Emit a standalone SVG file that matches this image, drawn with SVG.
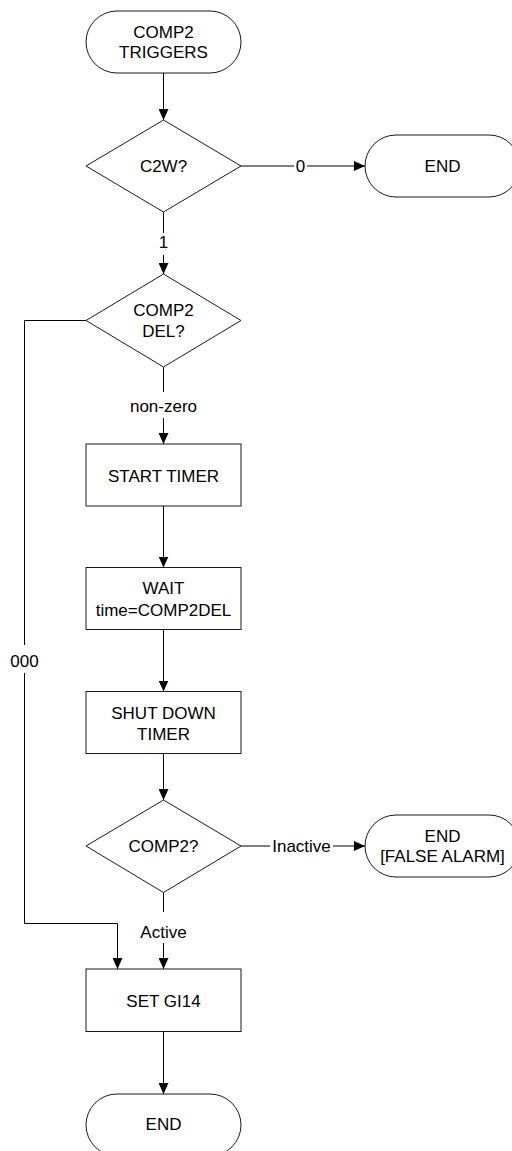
<svg xmlns="http://www.w3.org/2000/svg" width="512" height="1151" viewBox="0 0 512 1151">
<style>
.shape{fill:#fff;stroke:#1a1a1a;stroke-width:1}
.t{font-family:"Liberation Sans",Arial,sans-serif;font-size:17px;fill:#000;text-anchor:middle}
.c{fill:none;stroke:#000;stroke-width:1}
.lb{fill:#fff;stroke:none}
</style>
<defs>
<marker id="arr" markerUnits="userSpaceOnUse" markerWidth="11" markerHeight="10" refX="11" refY="5" orient="auto">
<path d="M0,0 L11,5 L0,10 z" fill="#000"/>
</marker>
</defs>
<rect width="512" height="1151" fill="#fff"/>
<g id="connectors">
<line class="c" x1="163.5" y1="73" x2="163.5" y2="120" marker-end="url(#arr)"/>
<line class="c" x1="241" y1="166" x2="365" y2="166" marker-end="url(#arr)"/>
<line class="c" x1="163.5" y1="212" x2="163.5" y2="274" marker-end="url(#arr)"/>
<polyline class="c" points="86,320.5 24.5,320.5 24.5,923.5 117.5,923.5 117.5,969" marker-end="url(#arr)"/>
<line class="c" x1="163.5" y1="367" x2="163.5" y2="444" marker-end="url(#arr)"/>
<line class="c" x1="163.5" y1="506" x2="163.5" y2="567.5" marker-end="url(#arr)"/>
<line class="c" x1="163.5" y1="629.5" x2="163.5" y2="691.5" marker-end="url(#arr)"/>
<line class="c" x1="163.5" y1="753.5" x2="163.5" y2="800" marker-end="url(#arr)"/>
<line class="c" x1="241" y1="846" x2="365" y2="846" marker-end="url(#arr)"/>
<line class="c" x1="163.5" y1="892.5" x2="163.5" y2="969" marker-end="url(#arr)"/>
<line class="c" x1="163.5" y1="1031.5" x2="163.5" y2="1094" marker-end="url(#arr)"/>
<rect class="lb" x="294" y="156" width="13" height="20"/>
<text class="t" x="300.5" y="171.5">0</text>
<rect class="lb" x="156" y="233" width="15" height="22"/>
<text class="t" x="163.5" y="248.3">1</text>
<rect class="lb" x="128" y="392" width="71" height="26"/>
<text class="t" x="163.5" y="411.7">non-zero</text>
<rect class="lb" x="8" y="645" width="33" height="28"/>
<text class="t" x="24.5" y="666.5">000</text>
<rect class="lb" x="270" y="836" width="63" height="20"/>
<text class="t" x="301.5" y="852">Inactive</text>
<rect class="lb" x="139" y="912" width="49" height="31"/>
<text class="t" x="163.5" y="937.7">Active</text>
</g>
<g id="start">
<rect class="shape" x="86" y="11" width="155" height="62" rx="31" ry="31"/>
<text class="t" x="163.5" y="37.7">COMP2</text>
<text class="t" x="163.5" y="58.3">TRIGGERS</text>
</g>
<g id="c2w">
<polygon class="shape" points="163.5,120 241,166 163.5,212 86,166"/>
<text class="t" x="163.5" y="171.5">C2W?</text>
</g>
<g id="end1">
<rect class="shape" x="365" y="135" width="155" height="62" rx="31" ry="31"/>
<text class="t" x="442.5" y="171.5">END</text>
</g>
<g id="comp2del">
<polygon class="shape" points="163.5,274 241,320.5 163.5,367 86,320.5"/>
<text class="t" x="163.5" y="315.7">COMP2</text>
<text class="t" x="163.5" y="336.5">DEL?</text>
</g>
<g id="starttimer">
<rect class="shape" x="86" y="444" width="155" height="62"/>
<text class="t" x="163.5" y="481.5">START TIMER</text>
</g>
<g id="wait">
<rect class="shape" x="86" y="567.5" width="155" height="62"/>
<text class="t" x="163.5" y="594.3">WAIT</text>
<text class="t" x="163.5" y="615.5">time=COMP2DEL</text>
</g>
<g id="shutdown">
<rect class="shape" x="86" y="691.5" width="155" height="62"/>
<text class="t" x="163.5" y="719">SHUT DOWN</text>
<text class="t" x="163.5" y="740">TIMER</text>
</g>
<g id="comp2q">
<polygon class="shape" points="163.5,800 241,846 163.5,892.5 86,846"/>
<text class="t" x="163.5" y="852">COMP2?</text>
</g>
<g id="end2">
<rect class="shape" x="365" y="815" width="155" height="62" rx="31" ry="31"/>
<text class="t" x="442.5" y="841.5">END</text>
<text class="t" x="442.5" y="862">[FALSE ALARM]</text>
</g>
<g id="setgi14">
<rect class="shape" x="86" y="969" width="155" height="62.5"/>
<text class="t" x="163.5" y="1006.5">SET GI14</text>
</g>
<g id="end3">
<rect class="shape" x="86" y="1094" width="155" height="62" rx="31" ry="31"/>
<text class="t" x="163.5" y="1130">END</text>
</g>
</svg>
